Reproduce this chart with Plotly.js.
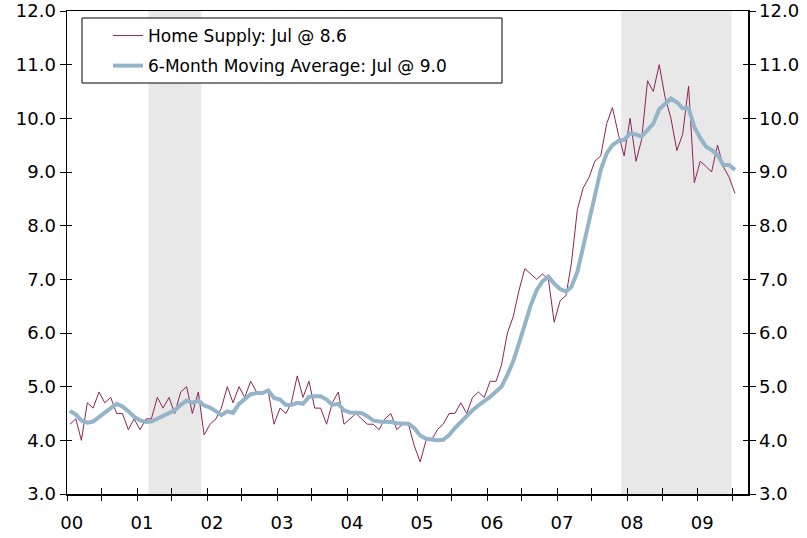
<!DOCTYPE html>
<html>
<head>
<meta charset="utf-8">
<script src="https://cdn.plot.ly/plotly-3.0.1.min.js"></script>
<style>html,body{margin:0;padding:0;background:#fff;}#chart{width:807px;height:538px;}</style>
</head>
<body>
<div id="chart"></div>
<script>
// Monthly, Jan 2000 – Jul 2009
const startYear = 2000;
const homeSupply = [
  4.3, 4.4, 4.0, 4.7, 4.6, 4.9, 4.7, 4.8, 4.5, 4.5, 4.2, 4.4,
  4.2, 4.4, 4.4, 4.8, 4.6, 4.8, 4.5, 4.9, 5.0, 4.5, 4.9, 4.1,
  4.3, 4.4, 4.6, 5.0, 4.7, 5.0, 4.8, 5.1, 4.9, 4.9, 4.9, 4.3,
  4.6, 4.5, 4.7, 5.2, 4.8, 5.1, 4.6, 4.6, 4.3, 4.7, 4.9, 4.3,
  4.4, 4.5, 4.4, 4.3, 4.3, 4.2, 4.4, 4.5, 4.2, 4.3, 4.3, 3.9,
  3.6, 4.0, 4.0, 4.2, 4.3, 4.5, 4.5, 4.7, 4.5, 4.8, 4.9, 4.8,
  5.1, 5.1, 5.4, 6.0, 6.3, 6.8, 7.2, 7.1, 7.0, 7.1, 7.0, 6.2,
  6.6, 6.7, 7.3, 8.3, 8.7, 8.9, 9.2, 9.3, 9.9, 10.2, 9.7, 9.3,
  10.0, 9.2, 9.6, 10.7, 10.5, 11.0, 10.4, 10.0, 9.4, 9.7, 10.6, 8.8,
  9.2, 9.1, 9.0, 9.5, 9.1, 8.9, 8.6
];
const movingAvg = [
  4.55, 4.48, 4.37, 4.33, 4.35, 4.44, 4.52, 4.60, 4.68, 4.63, 4.54, 4.44,
  4.37, 4.34, 4.35, 4.40, 4.46, 4.51, 4.56, 4.66, 4.74, 4.70, 4.74, 4.65,
  4.61, 4.54, 4.47, 4.54, 4.51, 4.68, 4.76, 4.86, 4.88, 4.88, 4.93, 4.79,
  4.76, 4.66, 4.66, 4.70, 4.68, 4.81, 4.82, 4.82, 4.76, 4.66, 4.68, 4.56,
  4.52, 4.51, 4.51, 4.45, 4.37, 4.35, 4.35, 4.34, 4.32, 4.32, 4.31, 4.23,
  4.09, 4.03, 4.01, 4.00, 4.01, 4.10, 4.23, 4.35, 4.45, 4.56, 4.65, 4.72,
  4.81, 4.91, 5.00, 5.22, 5.47, 5.81, 6.18, 6.52, 6.80, 6.96, 7.05, 6.92,
  6.82, 6.77, 6.86, 7.14, 7.60, 8.07, 8.54, 9.04, 9.35, 9.50, 9.58, 9.60,
  9.72, 9.70, 9.66, 9.78, 9.90, 10.17, 10.26, 10.37, 10.30, 10.19, 10.19, 9.84,
  9.63, 9.47, 9.41, 9.32, 9.13, 9.13, 9.04
];
const yearLabels = ['00','01','02','03','04','05','06','07','08','09'];
const yTicks = [3,4,5,6,7,8,9,10,11,12];
const recessions = [['2001-03-01','2001-12-01'],['2007-12-01','2009-06-28']];
const seriesNames = ['Home Supply: Jul @ 8.6','6-Month Moving Average: Jul @ 9.0'];

function pad(n){return (n<10?'0':'')+n;}
const months = homeSupply.map((_, i) => {
  const y = startYear + Math.floor(i/12), m = i%12 + 1;
  return y + '-' + pad(m) + '-16';
});
const labelDates = yearLabels.map((_, i) => (startYear+i) + '-01-26');
const tickDates = [];
for (let i = 0; i < yearLabels.length; i++) {
  tickDates.push((startYear+i)+'-01-01');
  tickDates.push((startYear+i)+'-07-01');
}

const FONT = 'DejaVu Sans, Verdana, sans-serif';
const xRange = ['2000-01-01','2009-09-22'];

const traces = [
  {x: months, y: homeSupply, type:'scatter', mode:'lines', name: seriesNames[0],
   line:{color:'#8C2456', width:1}, legendgroup:'a'},
  {x: months, y: movingAvg, type:'scatter', mode:'lines', name: seriesNames[1],
   line:{color:'#93B4C9', width:4}, legendgroup:'b'},
  {x: [], y: [], xaxis:'x2', yaxis:'y3', showlegend:false, hoverinfo:'skip'},
  {x: [], y: [], xaxis:'x3', yaxis:'y4', showlegend:false, hoverinfo:'skip'},
  {x: [], y: [], xaxis:'x', yaxis:'y2', showlegend:false, hoverinfo:'skip'}
];

const shapes = recessions.map(r => ({
  type:'rect', xref:'x', yref:'paper', x0:r[0], x1:r[1], y0:0, y1:1,
  fillcolor:'#E8E8E8', line:{width:0}, layer:'below'
}));
shapes.push({type:'rect', xref:'paper', yref:'paper',
  x0:(82-67)/681, x1:(502-67)/681, y0:(494-83)/483, y1:(494-18)/483,
  line:{color:'#000', width:1}, fillcolor:'rgba(255,255,255,1)', layer:'above'});

const yBase = {range:[3,12], tickvals:yTicks, showgrid:false, zeroline:false, fixedrange:true};

const layout = {
  width:807, height:538,
  margin:{l:67, r:59, t:11, b:44},
  paper_bgcolor:'#fff', plot_bgcolor:'#fff',
  font:{family:FONT, color:'#000', size:18},
  showlegend:true,
  legend:{x:(108-67)/681, y:(494-18)/483, xanchor:'left', yanchor:'top',
    bgcolor:'rgba(0,0,0,0)', borderwidth:0, font:{family:FONT, size:17, color:'#000'},
    tracegroupgap:5},
  xaxis:{type:'date', range:xRange, tickvals:labelDates, ticktext:yearLabels,
    ticks:'', showline:true, linecolor:'#000', linewidth:1.5, mirror:true,
    showgrid:false, zeroline:false, ticklabelstandoff:12, tickfont:{size:18}},
  xaxis2:{type:'date', overlaying:'x', matches:'x', anchor:'y3', range:xRange, tickvals:tickDates,
    ticks:'outside', ticklen:6, tickcolor:'#000', showticklabels:false, showline:false, showgrid:false, zeroline:false},
  xaxis3:{type:'date', overlaying:'x', matches:'x', anchor:'y4', range:xRange, tickvals:tickDates,
    ticks:'inside', ticklen:6, tickcolor:'#000', showticklabels:false, showline:false, showgrid:false, zeroline:false},
  yaxis:Object.assign({}, yBase, {side:'left', ticks:'outside', ticklen:6, tickcolor:'#000',
    showline:true, linecolor:'#000', linewidth:1.5, tickformat:'.1f', tickfont:{size:18}}),
  yaxis2:Object.assign({}, yBase, {side:'right', overlaying:'y', matches:'y', anchor:'x', ticks:'outside', ticklen:6,
    tickcolor:'#000', showline:true, linecolor:'#000', linewidth:1.5, tickformat:'.1f', tickfont:{size:18}}),
  yaxis3:Object.assign({}, yBase, {side:'left', overlaying:'y', matches:'y', anchor:'x2', ticks:'inside', ticklen:5,
    tickcolor:'#000', showticklabels:false, showline:false}),
  yaxis4:Object.assign({}, yBase, {side:'right', overlaying:'y', matches:'y', anchor:'x3', ticks:'inside', ticklen:5,
    tickcolor:'#000', showticklabels:false, showline:false}),
  shapes: shapes
};

Plotly.newPlot('chart', traces, layout, {displayModeBar:false, staticPlot:true});
</script>
</body>
</html>
